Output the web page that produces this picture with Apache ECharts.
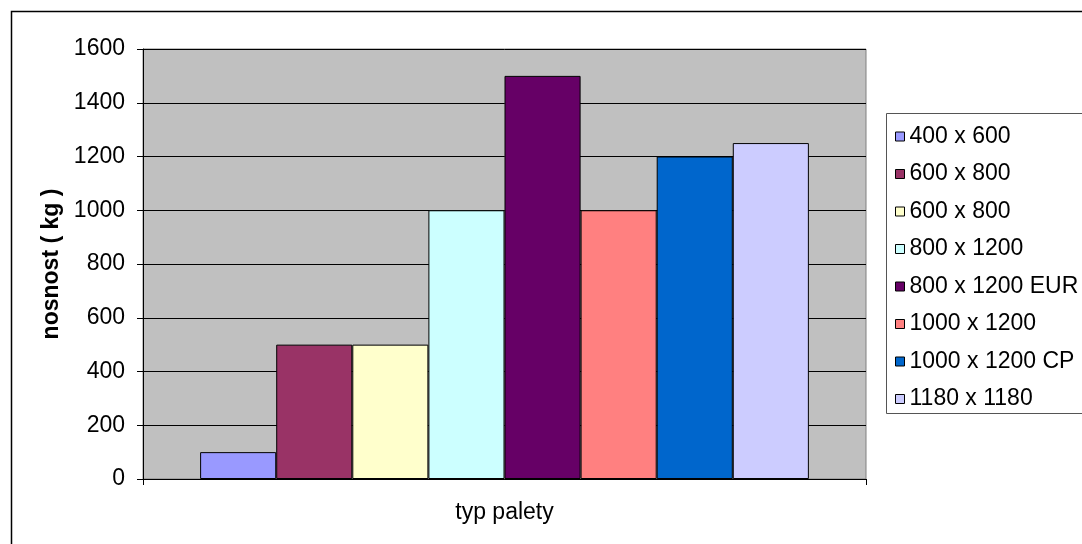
<!DOCTYPE html>
<html>
<head>
<meta charset="utf-8">
<script src="https://cdn.jsdelivr.net/npm/echarts@6/dist/echarts.min.js"></script>
<style>
  html, body { margin: 0; padding: 0; background: #fff; }
  #chart { width: 1082px; height: 544px; }
</style>
</head>
<body>
<div id="chart"></div>
<script>
// Pallet types and their load capacity (kg)
const categories = ['typ palety'];
const seriesNames = [
  '400 x 600', '600 x 800', '600 x 800', '800 x 1200',
  '800 x 1200 EUR', '1000 x 1200', '1000 x 1200 CP', '1180 x 1180'
];
const capacities = [100, 500, 500, 1000, 1500, 1000, 1200, 1250];
const seriesColors = [
  '#9999FF', '#993366', '#FFFFCC', '#CCFFFF',
  '#660066', '#FF8080', '#0066CC', '#CCCCFF'
];
const yTicks = { min: 0, max: 1600, step: 200 };

const FONT = '"Liberation Sans", Arial, sans-serif';
const FS = 23;

// Two pallet types share a label, so each series gets a unique key
const keyOf = i => 'pal' + i;
const labelByKey = {};
seriesNames.forEach((n, i) => { labelByKey[keyOf(i)] = n; });

const chart = echarts.init(document.getElementById('chart'), null, { renderer: 'canvas' });

const series = seriesNames.map((name, i) => ({
  name: keyOf(i),
  type: 'bar',
  data: [capacities[i]],
  barGap: '0%',
  barCategoryGap: '15.8%',
  itemStyle: { color: seriesColors[i], borderColor: '#000', borderWidth: 1 },
  emphasis: { disabled: true },
  animation: false
}));

chart.setOption({
  animation: false,
  textStyle: { fontFamily: FONT },
  grid: {
    left: 143, top: 49, right: 216, bottom: 65,
    show: true, backgroundColor: '#C0C0C0', borderColor: '#808080', borderWidth: 1
  },
  graphic: [
    {
      type: 'rect', z: -10,
      shape: { x: 11.5, y: 11.5, width: 1200, height: 700 },
      style: { fill: 'none', stroke: '#000', lineWidth: 1.5 }
    },
    {
      type: 'rect', z: -5,
      shape: { x: 886.5, y: 113.5, width: 400, height: 300 },
      style: { fill: '#fff', stroke: '#555', lineWidth: 1 }
    }
  ],
  legend: {
    orient: 'vertical',
    left: 895, top: 125,
    padding: 0,
    itemWidth: 9, itemHeight: 9,
    itemGap: 14.5,
    itemTextGap: 14,
    icon: 'rect',
    selectedMode: false,
    formatter: key => labelByKey[key],
    textStyle: { fontFamily: FONT, fontSize: FS, color: '#000', lineHeight: 22 },
    data: seriesNames.map((n, i) => ({
      name: keyOf(i),
      itemStyle: { color: seriesColors[i], borderColor: '#000', borderWidth: 1 }
    }))
  },
  xAxis: {
    type: 'category',
    data: categories,
    axisLine: { show: true, lineStyle: { color: '#000', width: 1 } },
    axisTick: { show: true, alignWithLabel: false, length: 6, lineStyle: { color: '#000' } },
    axisLabel: { show: true, margin: 22, fontSize: FS, fontFamily: FONT, color: '#000' },
    splitLine: { show: false }
  },
  yAxis: {
    type: 'value',
    min: yTicks.min, max: yTicks.max, interval: yTicks.step,
    name: 'nosnost ( kg )',
    nameLocation: 'middle',
    nameGap: 78,
    nameTextStyle: { fontFamily: FONT, fontSize: FS, fontWeight: 'bold', color: '#000' },
    axisLine: { show: true, lineStyle: { color: '#000', width: 1 } },
    axisTick: { show: true, length: 6, lineStyle: { color: '#000' } },
    axisLabel: { margin: 18, fontSize: FS, fontFamily: FONT, color: '#000', formatter: v => String(v) },
    splitLine: { show: true, lineStyle: { color: '#000', width: 1 } }
  },
  series: series
});
</script>
</body>
</html>
